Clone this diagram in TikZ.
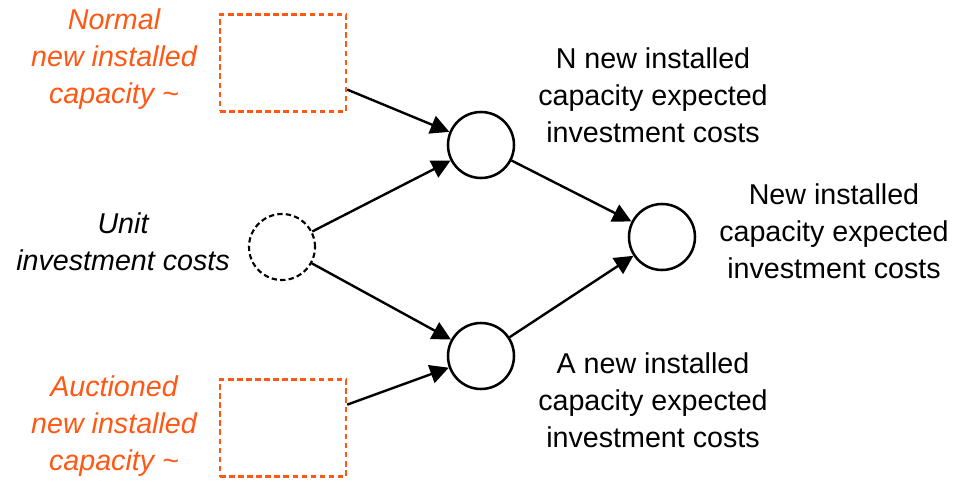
\documentclass[tikz,border=0pt]{standalone}
\usepackage{fontspec}
\setmainfont{Liberation Sans}
\usetikzlibrary{arrows.meta}
\definecolor{orng}{RGB}{255,88,20}

\tikzset{
	varcirc/.style={circle, draw, line width=1.9pt, minimum size=49.5pt, inner sep=0pt},
	shadowcirc/.style={varcirc, dash pattern={on 4pt off 2.4pt}, line width=1.6pt},
	shadowbox/.style={draw=orng, line width=1.8pt, dash pattern={on 4.2pt off 2.6pt}, minimum width=94.5pt, minimum height=72.75pt, inner sep=0pt},
	lbl/.style={align=center, inner sep=0.75pt, font=\fontsize{21.5}{27.75}\selectfont},
	arr/.style={-{Triangle[length=14pt,width=14pt]}, line width=1.8pt},
}

\begin{document}
\begin{tikzpicture}[x=0.75pt,y=0.75pt,yscale=-1,xscale=1]
	\useasboundingbox (0,0) rectangle (954,481);

	%Shapes: dashed boxes
	\node [shadowbox] (nbox) at (283,63) {};
	\node [shadowbox] (abox) at (283,428) {};
	%Shape: dashed circle
	\node [shadowcirc] (unit) at (282,247) {};
	%Shapes: circles
	\node [varcirc] (ncost) at (481,145) {};
	\node [varcirc] (acost) at (481,356) {};
	\node [varcirc] (cost) at (662,237) {};

	%Arrows
	\draw [arr] (nbox) -- (ncost);
	\draw [arr] (unit) -- (ncost);
	\draw [arr] (unit) -- (acost);
	\draw [arr] (abox) -- (acost);
	\draw [arr] (ncost) -- (cost);
	\draw [arr] (acost) -- (cost);

	% Text Node
	\node [lbl, text=orng, font=\itshape\fontsize{21.5}{27.75}\selectfont] (nlbl) at (114,59) {Normal\\new installed\\capacity \textasciitilde};
	% Text Node
	\node [lbl, font=\itshape\fontsize{21.5}{27.75}\selectfont] (ulbl) at (123,242) {Unit\\investment costs};
	% Text Node
	\node [lbl, text=orng, font=\itshape\fontsize{21.5}{27.75}\selectfont] (albl) at (114,426) {Auctioned\\new installed\\capacity \textasciitilde};
	% Text Node
	\node [lbl] (nclbl) at (653,95) {N new installed\\capacity expected\\investment costs};
	% Text Node
	\node [lbl] (clbl) at (834,231) {New installed\\capacity expected\\investment costs};
	% Text Node
	\node [lbl] (aclbl) at (653,400) {A new installed\\capacity expected\\investment costs};

\end{tikzpicture}
\end{document}
